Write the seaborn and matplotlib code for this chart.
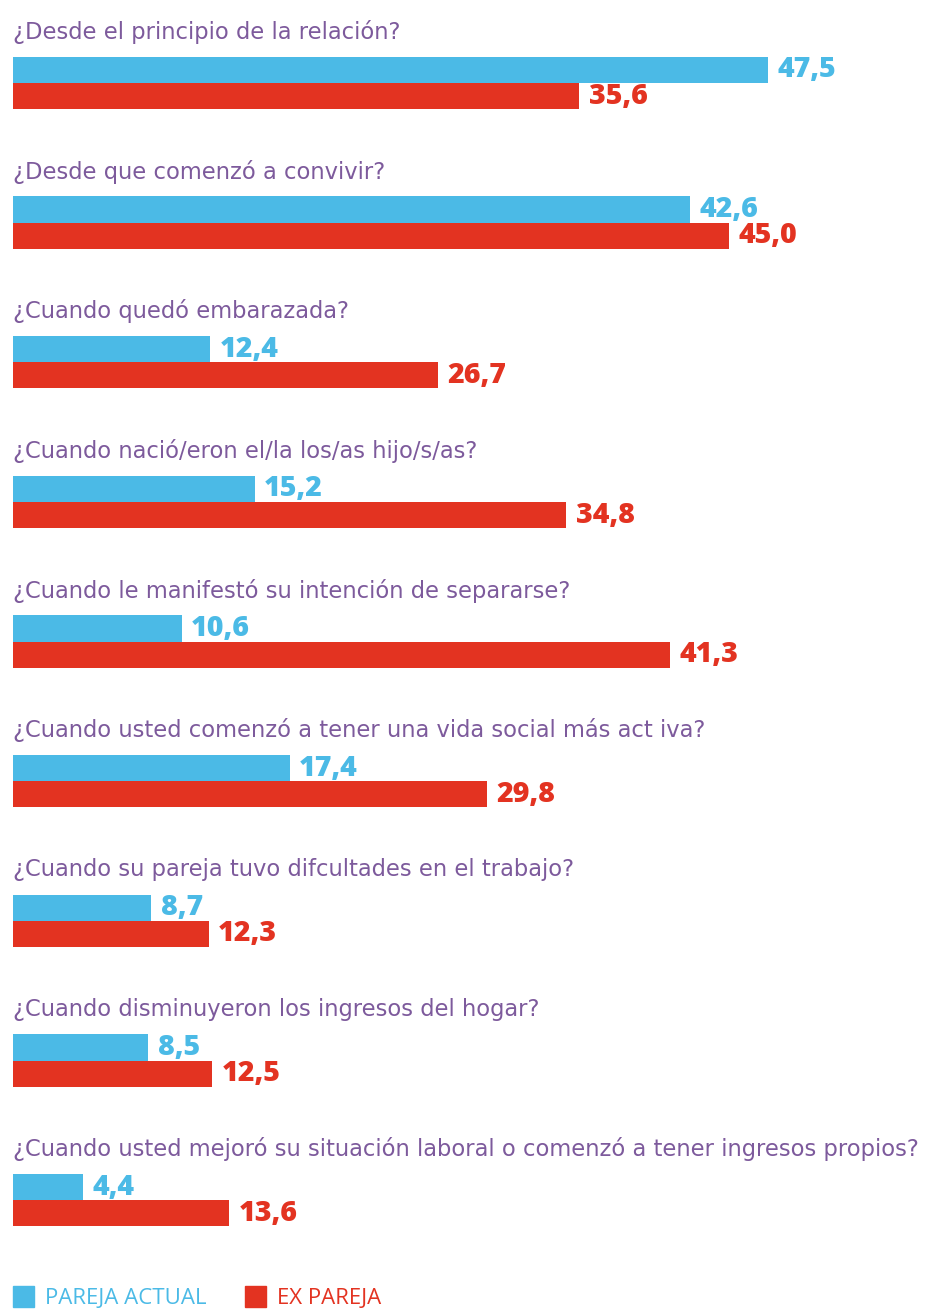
import pandas as pd
import matplotlib.pyplot as plt
import matplotlib.patches as mpatches
import seaborn as sns

# data
preguntas = [
    '¿Desde el principio de la relación?',
    '¿Desde que comenzó a convivir?',
    '¿Cuando quedó embarazada?',
    '¿Cuando nació/eron el/la los/as hijo/s/as?',
    '¿Cuando le manifestó su intención de separarse?',
    '¿Cuando usted comenzó a tener una vida social más act iva?',
    '¿Cuando su pareja tuvo difcultades en el trabajo?',
    '¿Cuando disminuyeron los ingresos del hogar?',
    '¿Cuando usted mejoró su situación laboral o comenzó a tener ingresos propios?',
]
pareja_actual = [47.5, 42.6, 12.4, 15.2, 10.6, 17.4, 8.7, 8.5, 4.4]
ex_pareja = [35.6, 45.0, 26.7, 34.8, 41.3, 29.8, 12.3, 12.5, 13.6]
series = ['PAREJA ACTUAL', 'EX PAREJA']

azul = '#4bbae6'
rojo = '#e33321'
violeta = '#7d5a9c'

sns.set_theme(style='white')
plt.rcParams['font.family'] = ['Open Sans', 'DejaVu Sans']

df = pd.DataFrame({'pregunta': preguntas * 2,
                   'valor': pareja_actual + ex_pareja,
                   'serie': [series[0]] * len(preguntas) + [series[1]] * len(preguntas)})

fig = plt.figure(figsize=(9.33, 13.09), dpi=100)
ax = fig.add_axes([13 / 933, 0, 920 / 933, 1])

sns.barplot(data=df, x='valor', y='pregunta', hue='serie', order=preguntas,
            hue_order=series, palette=[azul, rojo], orient='h',
            width=0.375, gap=0, saturation=1, legend=False, linewidth=0, ax=ax)

ax.set_xlim(0, 920 / 15.9)
# first group centred ~83 px from the top, ~140 px between groups
pitch = 139.65
ax.set_ylim((1309 - 83) / pitch, -83 / pitch)
ax.axis('off')

# question labels above each group
for i, q in enumerate(preguntas):
    ax.text(0, i - 0.365, q, color=violeta, fontsize=16.3, va='center', ha='left',
            family='DejaVu Sans')

# value labels
for i in range(len(preguntas)):
    for v, off, c in [(pareja_actual[i], -0.0938, azul), (ex_pareja[i], 0.0938, rojo)]:
        ax.text(v + 0.6, i + off, f'{v:.1f}'.replace('.', ','), color=c,
                fontsize=20.5, fontweight='heavy', va='center', ha='left')

# legend at the bottom
for x0, lab, c in [(13, series[0], azul), (245, series[1], rojo)]:
    fig.patches.append(mpatches.Rectangle((x0 / 933, 1 - 1307 / 1309), 21 / 933, 21 / 1309,
                                          transform=fig.transFigure, color=c))
    fig.text((x0 + 32) / 933, 1 - 1298 / 1309, lab, color=c, fontsize=16,
             va='center', ha='left')

plt.savefig('out.png', dpi=100)
